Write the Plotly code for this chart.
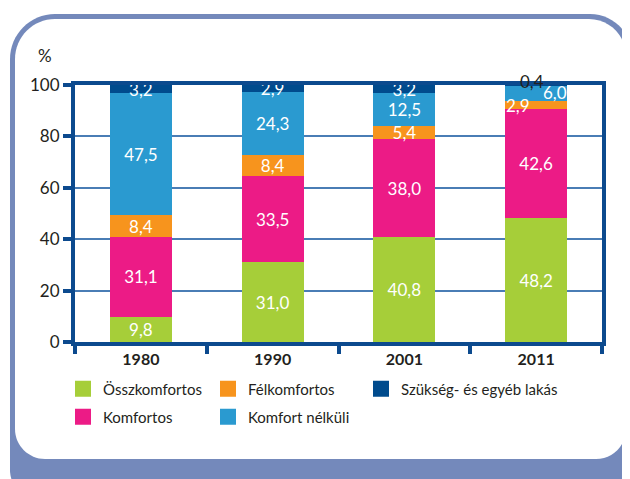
import plotly.graph_objects as go

years = ['1980', '1990', '2001', '2011']
series_names = ['Összkomfortos', 'Komfortos', 'Félkomfortos', 'Komfort nélküli', 'Szükség- és egyéb lakás']
osszkomfortos = [9.8, 31.0, 40.8, 48.2]
komfortos = [31.1, 33.5, 38.0, 42.6]
felkomfortos = [8.4, 8.4, 5.4, 2.9]
komfort_nelkuli = [47.5, 24.3, 12.5, 6.0]
szukseg = [3.2, 2.9, 3.2, 0.4]
colors = ['#a6ce39', '#ec1b86', '#f7941d', '#2a9ad0', '#004b8d']
y_ticks = [0, 20, 40, 60, 80, 100]

# page is drawn with an 8px body margin, so the figure is a bit smaller
OFF = 8
W, H = 630 - OFF, 479 - OFF
ML, MR, MT, MB = 75 - OFF, 28, 85 - OFF, 137
PW = W - ML - MR
PH = H - MT - MB
FONT = 'Lato, Roboto, sans-serif'
DARK = '#231f20'


def fmt(v):
    return f'{v:.1f}'.replace('.', ',')


def px_to_paper(x, y):
    return (x - OFF - ML) / PW, (H - MB - (y - OFF)) / PH


def pp(x, y):
    a, b = px_to_paper(x, y)
    return f'{a:.5f},{b:.5f}'


def rounded(x0, y0, x1, y1, rtl, rtr, rbr, rbl):
    k = 0.45
    return (f'M{pp(x0 + rtl, y0)} L{pp(x1 - rtr, y0)} '
            f'C{pp(x1 - rtr * k, y0)} {pp(x1, y0 + rtr * k)} {pp(x1, y0 + rtr)} '
            f'L{pp(x1, y1 - rbr)} '
            f'C{pp(x1, y1 - rbr * k)} {pp(x1 - rbr * k, y1)} {pp(x1 - rbr, y1)} '
            f'L{pp(x0 + rbl, y1)} '
            f'C{pp(x0 + rbl * k, y1)} {pp(x0, y1 - rbl * k)} {pp(x0, y1 - rbl)} '
            f'L{pp(x0, y0 + rtl)} '
            f'C{pp(x0, y0 + rtl * k)} {pp(x0 + rtl * k, y0)} {pp(x0 + rtl, y0)} Z')


all_series = [osszkomfortos, komfortos, felkomfortos, komfort_nelkuli, szukseg]

fig = go.Figure()
for i, (name, vals) in enumerate(zip(series_names, all_series)):
    texts = [fmt(v) for v in vals]
    if i >= 2:
        texts[3] = ''  # small 2011 segments are labelled separately
    fig.add_trace(go.Bar(
        x=years, y=vals, name=name, marker_color=colors[i], marker_line_width=0,
        text=texts, textposition='inside', insidetextanchor='middle', textangle=0,
        textfont=dict(color='white', size=17, family=FONT),
        width=0.47, showlegend=False,
    ))

# one small legend per entry, laid out in the 3+2 grid of the original
legend_pos = {0: (63, 389), 1: (63, 417), 2: (208, 389), 3: (208, 417), 4: (361, 389)}
legends = {}
for n, i in enumerate([0, 1, 2, 3, 4]):
    key = 'legend' if n == 0 else f'legend{n + 1}'
    fig.add_trace(go.Scatter(
        x=[years[0]], y=[None], mode='markers', name=series_names[i], legend=key,
        marker=dict(symbol='square', size=16, color=colors[i]),
    ))
    lx, ly = px_to_paper(*legend_pos[i])
    legends[key] = dict(x=lx, y=ly, xanchor='left', yanchor='middle', orientation='v',
                        font=dict(size=15, family=FONT, color=DARK), bgcolor='rgba(0,0,0,0)',
                        borderwidth=0)

# labels of the thin 2011 segments
i2011 = years.index('2011')
fig.add_annotation(x=i2011, y=92.2, text=fmt(felkomfortos[3]), showarrow=False, xshift=-18,
                   font=dict(color='white', size=17, family=FONT))
fig.add_annotation(x=i2011, y=97.2, text=fmt(komfort_nelkuli[3]), showarrow=False, xshift=19,
                   font=dict(color='white', size=17, family=FONT))
fig.add_annotation(x=i2011, y=100, yshift=4, text=fmt(szukseg[3]), showarrow=False, xshift=-4,
                   font=dict(color=DARK, size=17, family=FONT))
pxx, pxy = px_to_paper(45, 56)
fig.add_annotation(xref='paper', yref='paper', x=pxx, y=pxy, xanchor='center', yanchor='middle',
                   text='%', showarrow=False, font=dict(color=DARK, size=17, family=FONT))

fig.update_layout(
    width=W, height=H,
    margin=dict(l=ML, r=MR, t=MT, b=MB, pad=0),
    barmode='stack',
    paper_bgcolor='white', plot_bgcolor='rgba(0,0,0,0)',
    font=dict(family=FONT, color=DARK),
    uniformtext=dict(minsize=17, mode='show'),
    showlegend=True,
    shapes=[
        dict(type='path', xref='paper', yref='paper', layer='below', path=rounded(10, 14, 632, 500, 45, 42, 30, 30),
             fillcolor='#7489bb', line_width=0),
        dict(type='path', xref='paper', yref='paper', layer='below', path=rounded(15, 19, 626, 459, 40, 37, 30, 30),
             fillcolor='white', line_width=0),
    ],
    **legends,
)
fig.update_yaxes(range=[0, 100], tickvals=y_ticks, showgrid=True, gridcolor='#4a7db5', gridwidth=1.5,
                 showline=True, mirror=True, linecolor='#0c4a8e', linewidth=4,
                 ticks='outside', ticklen=8, tickwidth=4, tickcolor='#0c4a8e',
                 tickfont=dict(size=17, family=FONT, color=DARK), zeroline=False, fixedrange=True)
fig.update_xaxes(type='category', tickson='boundaries', ticks='outside', ticklen=8, tickwidth=4,
                 tickcolor='#0c4a8e', showline=True, mirror=True, linecolor='#0c4a8e', linewidth=4,
                 tickfont=dict(size=16, family=FONT, color=DARK, weight='bold'), showgrid=False)

fig.write_html('out.html')
